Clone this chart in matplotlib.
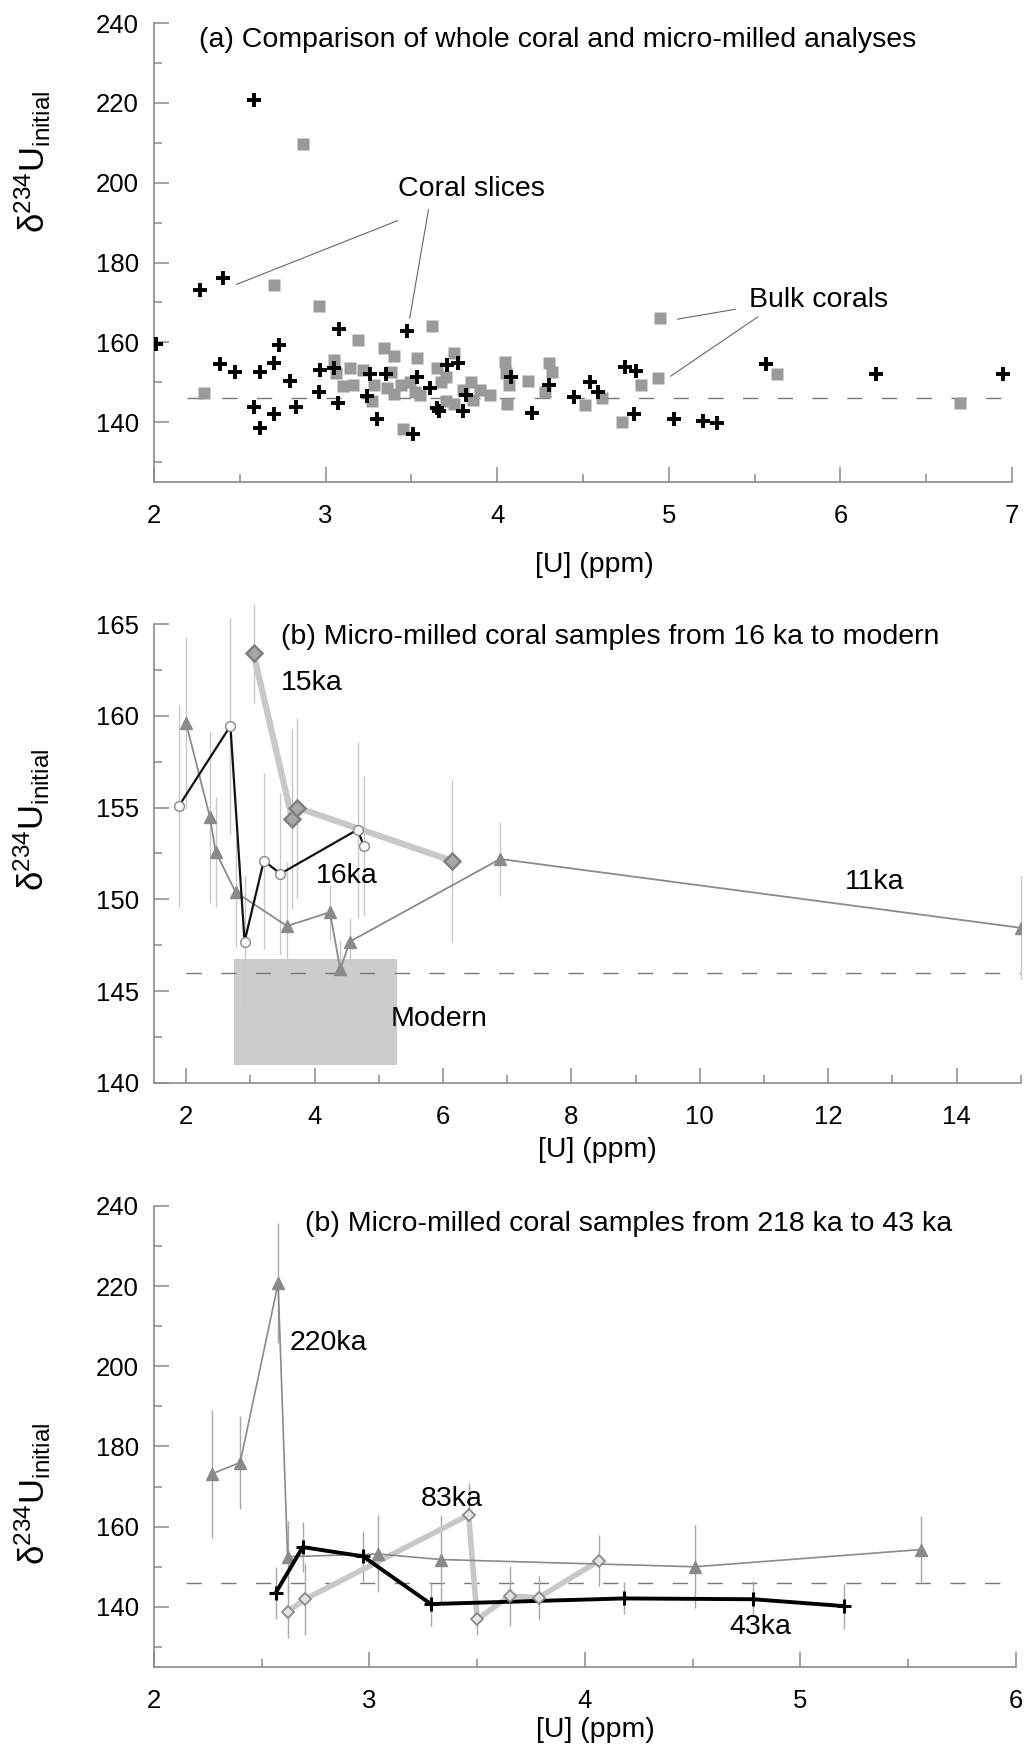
import numpy as np
import matplotlib
matplotlib.use('Agg')
import matplotlib.pyplot as plt
from matplotlib.patches import Rectangle
from matplotlib.ticker import MultipleLocator

plt.rcParams['font.family'] = ['Liberation Sans', 'DejaVu Sans']
plt.rcParams['mathtext.default'] = 'regular'

# reference (modern seawater) d234U
MODERN_D = 146.0

# (a) coral slices (micro-milled) : [U] ppm, d234U initial
slice_u = [2.01, 2.27, 2.40, 2.58, 2.385, 2.47, 2.58, 2.62, 2.62, 2.70,
           2.70, 2.73, 2.79, 2.83, 2.96, 2.97, 3.05, 3.07, 3.08, 3.24,
           3.26, 3.30, 3.35, 3.475, 3.51, 3.53, 3.61, 3.65, 3.66, 3.71,
           3.77, 3.80, 3.82, 4.08, 4.20, 4.30, 4.45, 4.54, 4.59, 4.745,
           4.81, 4.80, 5.03, 5.20, 5.28, 5.565, 6.21, 6.95]
slice_d = [159.5, 173.2, 176.1, 220.8, 154.5, 152.5, 143.7, 138.5, 152.5, 154.8,
           142.0, 159.3, 150.3, 143.7, 147.5, 153.0, 153.5, 144.7, 163.3, 146.5,
           152.0, 140.7, 152.0, 162.9, 137.0, 151.4, 148.5, 143.5, 142.7, 154.3,
           154.9, 142.7, 146.7, 151.4, 142.2, 149.2, 146.2, 150.1, 147.6, 153.9,
           152.9, 142.1, 140.7, 140.2, 139.8, 154.5, 152.0, 152.0]

# (a) bulk corals
bulk_u = [2.29, 2.87, 2.70, 2.96, 3.05, 3.06, 3.14, 3.19, 3.10, 3.16,
          3.22, 3.28, 3.27, 3.34, 3.40, 3.38, 3.36, 3.40, 3.45, 3.44,
          3.49, 3.52, 3.53, 3.62, 3.55, 3.65, 3.67, 3.70, 3.75, 3.70,
          3.75, 3.80, 3.85, 3.86, 3.90, 3.96, 4.045, 4.05, 4.07, 4.06,
          4.18, 4.30, 4.32, 4.28, 4.51, 4.61, 4.73, 4.84, 4.94, 4.95,
          5.63, 6.70]
bulk_d = [147.2, 209.8, 174.4, 169.1, 155.5, 152.2, 153.5, 160.7, 149.0, 149.3,
          153.0, 149.3, 145.2, 158.7, 156.5, 152.6, 148.5, 147.0, 138.3, 149.3,
          150.1, 147.6, 156.0, 164.1, 146.7, 153.6, 150.1, 151.4, 157.4, 145.2,
          144.5, 148.0, 150.1, 145.5, 148.0, 146.7, 155.1, 152.2, 149.2, 144.6,
          150.3, 154.7, 152.5, 147.6, 144.3, 146.0, 140.0, 149.2, 151.1, 166.1,
          152.0, 144.9]

# (b) 16 ka to modern
ka11_u = [2.0, 2.37, 2.46, 2.77, 3.57, 4.24, 4.40, 4.55, 6.89, 15.0]
ka11_d = [159.6, 154.5, 152.6, 150.4, 148.55, 149.3, 146.2, 147.7, 152.2, 148.45]
ka11_err = [4.7, 4.7, 3.0, 3.0, 3.5, 1.5, 1.6, 1.3, 2.0, 2.8]

ka16_u = [1.89, 2.69, 2.91, 3.21, 3.47, 4.67, 4.77]
ka16_d = [155.1, 159.45, 147.7, 152.1, 151.4, 153.8, 152.9]
ka16_err = [5.5, 5.9, 3.6, 4.8, 4.4, 4.8, 3.8]

ka15_u = [3.05, 3.65, 3.73, 6.14]
ka15_d = [163.4, 154.4, 155.0, 152.1]
ka15_err = [2.7, 4.9, 4.9, 4.4]

# modern coral range (box)
modern_u = [2.74, 5.28]
modern_d = [141.0, 146.75]

# (c) 218 ka to 43 ka
ka220_u = [2.27, 2.40, 2.576, 2.62, 3.04, 3.33, 4.51, 5.56]
ka220_d = [173.2, 176.0, 220.7, 152.5, 153.2, 151.8, 150.0, 154.3]
ka220_err = [16, 11.5, 15, 9, 9.6, 11, 10.4, 8.4]

ka43_u = [2.565, 2.69, 2.97, 3.285, 4.18, 4.78, 5.20]
ka43_d = [143.5, 154.9, 152.6, 140.7, 142.1, 141.9, 140.2]
ka43_err = [6.5, 6.3, 6.3, 5.6, 4.0, 4.5, 5.6]

ka83_u = [2.62, 2.70, 3.46, 3.50, 3.65, 3.785, 4.065]
ka83_d = [138.75, 141.9, 162.9, 136.9, 142.7, 142.3, 151.5]
ka83_err = [6.5, 9.0, 8.0, 4.0, 7.5, 5.5, 6.4]

YLABEL = 'δ$^{234}$U$_{initial}$'
XLABEL = '[U] (ppm)'
AX_COL = '#8a8a8a'
TXT = 20.5


def style_axes(ax, xmaj, xmin, ymaj, ymin):
    for s in ['top', 'right']:
        ax.spines[s].set_visible(False)
    for s in ['left', 'bottom']:
        ax.spines[s].set_color(AX_COL)
        ax.spines[s].set_linewidth(1.2)
    ax.xaxis.set_major_locator(MultipleLocator(xmaj))
    ax.xaxis.set_minor_locator(MultipleLocator(xmin))
    ax.yaxis.set_major_locator(MultipleLocator(ymaj))
    ax.yaxis.set_minor_locator(MultipleLocator(ymin))
    ax.tick_params(which='major', direction='in', length=11, width=1.1, color=AX_COL,
                   labelsize=18.5, pad=16)
    ax.tick_params(which='minor', direction='in', length=6, width=1.1, color=AX_COL)
    ax.tick_params(axis='y', which='major', pad=11)


def err(ax, u, d, e, col):
    u = np.array(u)
    d = np.array(d)
    e = np.array(e)
    ax.vlines(u, d - e, d + e, colors=col, lw=1.0, zorder=1, clip_on=False)


fig = plt.figure(figsize=(10.3, 17.47), dpi=100)

# ---------------- (a)
ax1 = fig.add_axes([0.1495, 0.7241, 0.833, 0.2627])
ax1.hlines(MODERN_D, 2.19, 7, colors='#777777', lw=1.0, linestyles=(0, (11, 14)), zorder=1)
ax1.plot(bulk_u, bulk_d, 's', color='#9a9a9a', ms=8.5, mec='none', zorder=2)
ax1.plot(slice_u, slice_d, '+', color='black', ms=9.5, mew=2.8, zorder=3)
ax1.set_xlim(2, 7)
ax1.set_ylim(125, 240)
style_axes(ax1, 1, 0.5, 20, 10)
ax1.text(2.264, 235.8, '(a) Comparison of whole coral and micro-milled analyses',
         fontsize=TXT, va='center', ha='left')
ax1.text(3.42, 198.4, 'Coral slices', fontsize=TXT, va='center', ha='left')
lk = dict(arrowstyle='-', color='#666666', lw=0.8, shrinkA=0, shrinkB=0)
ax1.annotate('', xy=(2.48, 174.5), xytext=(3.42, 190.5), arrowprops=lk)
ax1.annotate('', xy=(3.49, 166.0), xytext=(3.60, 193.3), arrowprops=lk)
ax1.text(5.47, 170.5, 'Bulk corals', fontsize=TXT, va='center', ha='left')
ax1.annotate('', xy=(5.05, 165.8), xytext=(5.39, 168.3), arrowprops=lk)
ax1.annotate('', xy=(5.01, 151.5), xytext=(5.52, 166.4), arrowprops=lk)
ax1.set_xlabel(XLABEL, fontsize=TXT, va='center')
ax1.xaxis.set_label_coords(0.513, -0.181)
ax1.set_ylabel(YLABEL, fontsize=25, va='center')
ax1.yaxis.set_label_coords(-0.141, 0.697)

# ---------------- (b)
ax2 = fig.add_axes([0.1495, 0.3801, 0.8417, 0.2627])
ax2.add_patch(Rectangle((modern_u[0], modern_d[0]), modern_u[1] - modern_u[0],
                        modern_d[1] - modern_d[0], facecolor='#cccccc', edgecolor='none', zorder=0))
ax2.hlines(MODERN_D, 2.0, 15, colors='#777777', lw=1.0, linestyles=(0, (11, 14)), zorder=1)
err(ax2, ka11_u, ka11_d, ka11_err, '#c8c8c8')
err(ax2, ka16_u, ka16_d, ka16_err, '#c8c8c8')
err(ax2, ka15_u, ka15_d, ka15_err, '#c8c8c8')
ax2.plot(ka15_u, ka15_d, '-', color='#c8c8c8', lw=4.5, zorder=2)
ax2.plot(ka15_u, ka15_d, 'D', mfc='#a8a8a8', mec='#808080', mew=1.8, ms=8, zorder=5)
ax2.plot(ka11_u, ka11_d, '-^', color='#8a8a8a', lw=1.3, ms=8, mec='#8a8a8a', zorder=3)
ax2.plot(ka16_u, ka16_d, '-', color='#111111', lw=1.6, zorder=4)
ax2.plot(ka16_u, ka16_d, 'o', mfc='white', mec='#888888', mew=1.0, ms=7, zorder=4)
ax2.set_xlim(1.5, 15)
ax2.set_ylim(140, 165)
style_axes(ax2, 2, 1, 5, 2.5)
ax2.text(3.48, 164.3, '(b) Micro-milled coral samples from 16 ka to modern',
         fontsize=TXT, va='center', ha='left')
ax2.text(3.48, 161.8, '15ka', fontsize=TXT, va='center', ha='left')
ax2.text(4.02, 151.3, '16ka', fontsize=TXT, va='center', ha='left')
ax2.text(12.26, 150.96, '11ka', fontsize=TXT, va='center', ha='left')
ax2.text(5.19, 143.5, 'Modern', fontsize=TXT, va='center', ha='left')
ax2.set_xlabel(XLABEL, fontsize=TXT, va='center')
ax2.xaxis.set_label_coords(0.511, -0.146)
ax2.set_ylabel(YLABEL, fontsize=25, va='center')
ax2.yaxis.set_label_coords(-0.141, 0.574)

# ---------------- (c)
ax3 = fig.add_axes([0.1495, 0.0458, 0.8369, 0.2639])
ax3.hlines(MODERN_D, 2.15, 5.97, colors='#777777', lw=1.0, linestyles=(0, (11, 14)), zorder=1)
err(ax3, ka220_u, ka220_d, ka220_err, '#a8a8a8')
err(ax3, ka43_u, ka43_d, ka43_err, '#a8a8a8')
err(ax3, ka83_u, ka83_d, ka83_err, '#a8a8a8')
ax3.plot(ka83_u, ka83_d, '-', color='#c8c8c8', lw=4, zorder=2)
ax3.plot(ka83_u, ka83_d, 'D', mfc='#e4e4e4', mec='#8a8a8a', mew=1.3, ms=6.5, zorder=5)
ax3.plot(ka220_u, ka220_d, '-^', color='#8a8a8a', lw=1.2, ms=8, mec='#8a8a8a', zorder=3)
ax3.plot(ka43_u, ka43_d, '-+', color='black', lw=2.8, ms=10, mew=2.2, zorder=4)
ax3.set_xlim(2, 6)
ax3.set_ylim(125, 240)
style_axes(ax3, 1, 0.5, 20, 10)
ax3.text(2.70, 235.4, '(b) Micro-milled coral samples from 218 ka to 43 ka',
         fontsize=TXT, va='center', ha='left')
ax3.text(2.63, 205.9, '220ka', fontsize=TXT, va='center', ha='left')
ax3.text(3.24, 166.9, '83ka', fontsize=TXT, va='center', ha='left')
ax3.text(4.67, 135.0, '43ka', fontsize=TXT, va='center', ha='left')
ax3.set_xlabel(XLABEL, fontsize=TXT, va='center')
ax3.xaxis.set_label_coords(0.512, -0.137)
ax3.set_ylabel(YLABEL, fontsize=25, va='center')
ax3.yaxis.set_label_coords(-0.141, 0.376)

fig.savefig('out.png', dpi=100)
